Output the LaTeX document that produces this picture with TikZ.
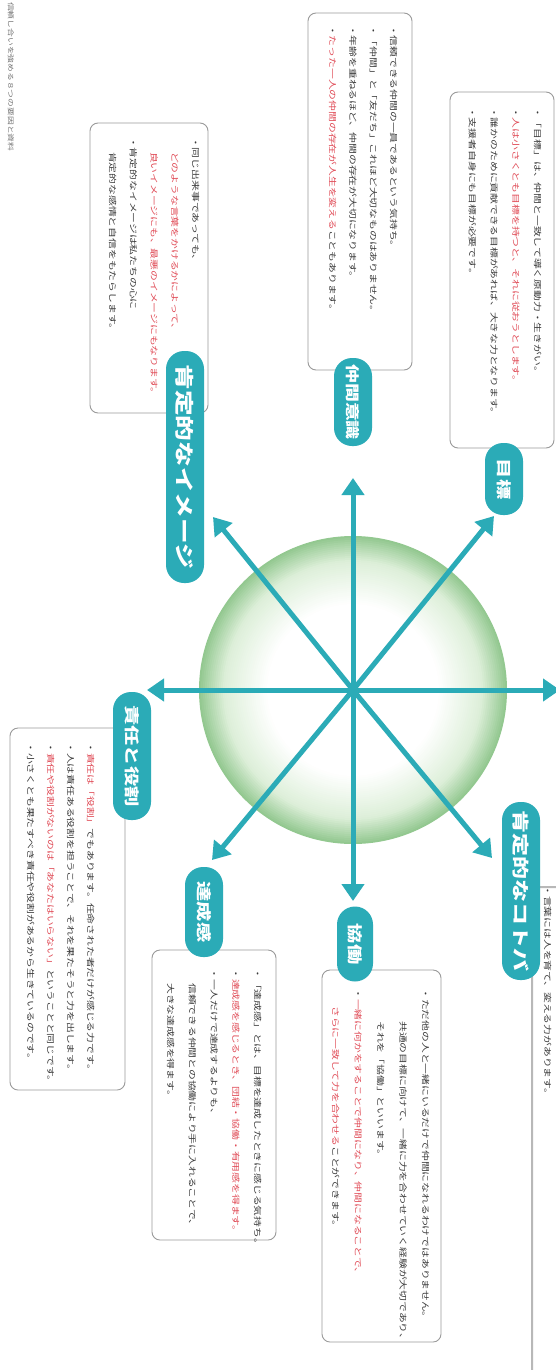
\documentclass[tikz,border=0pt]{standalone}
\usepackage{fontspec}
\newfontfamily\jp[FakeStretch=1.35]{Noto Sans CJK JP}
\usetikzlibrary{arrows.meta}
\definecolor{teal1}{HTML}{2BABB7}
\definecolor{redtxt}{HTML}{E04A55}
\definecolor{txt}{HTML}{3A3A3A}
\definecolor{boxline}{HTML}{9A9A9A}
\definecolor{ballmid}{HTML}{DDEFD9}
\definecolor{balledge}{HTML}{93C890}
\newcommand{\rd}[1]{\textcolor{redtxt}{#1}}
\begin{document}
\begin{tikzpicture}[x=1pt,y=-1pt,
  arr/.style={draw=teal1, line width=5pt, -{Triangle[length=17pt,width=22pt]}},
  pill/.style={fill=teal1, rounded corners=18pt, rotate=-90, inner sep=0pt, minimum height=38pt,
    text=white, font=\jp\bfseries},
  infobox/.style={draw=boxline, line width=0.9pt, fill=white, rounded corners=8pt, rotate=-90, inner sep=0pt},
  boxtext/.style={rotate=-90, anchor=north west, align=left, inner sep=0pt, text=txt},
  title/.style={rotate=-90, anchor=north west, inner sep=0pt, text=txt!70, font=\jp\fontsize{6.5pt}{8pt}\selectfont}
]
\path[use as bounding box] (0,0) rectangle (556,1370);
\clip (0,0) rectangle (556,1370);
\fill[white] (0,0) rectangle (556,1370);

% title
\node[title] (ttl) at (14,2) {信頼し合いを強める８つの要因と資料};

% centre ball (radial gradient built from concentric discs)
\node[circle, minimum size=308pt, inner sep=0pt] (ball) at (353,690) {};
\foreach \i in {0,...,77} {
  \pgfmathsetmacro\rr{154-2*\i}
  \pgfmathsetmacro\ff{\rr/154}
  \pgfmathsetmacro\pa{max(0,min(100,(\ff-0.84)/0.16*100))}
  \pgfmathsetmacro\pb{max(0,min(100,(\ff-0.56)/0.28*100))}
  \colorlet{tmpc}{ballmid!\pb!white}
  \colorlet{tmpd}{balledge!\pa!tmpc}
  \fill[tmpd] (ball.center) circle (\rr pt);
}
\coordinate (tN)  at (353,478);
\coordinate (tS)  at (353,901);
\coordinate (tW)  at (147,690);
\coordinate (tE)  at (560,690);
\coordinate (tNW) at (213,517);
\coordinate (tNE) at (494,516);
\coordinate (tSW) at (212,860);
\coordinate (tSE) at (492,858);
\foreach \t in {tN,tS,tW,tE,tNW,tNE,tSW,tSE}
  \draw[arr] (ball.center) -- (\t);

% boxes
\node[infobox, minimum width=356pt, minimum height=104pt] (boxA) at (502,270) {};
\node[infobox, minimum width=357pt, minimum height=104pt] (boxB) at (360,191.5) {};
\node[infobox, minimum width=290pt, minimum height=118pt] (boxC) at (149,268) {};
\node[infobox, minimum width=362pt, minimum height=115pt] (boxD) at (67.5,909) {};
\node[infobox, minimum width=290pt, minimum height=124pt] (boxE) at (214,1095) {};
\node[infobox, minimum width=372pt, minimum height=119pt] (boxF) at (381.5,1156) {};
\node[infobox, minimum width=533pt, minimum height=88pt, draw=boxline!70, line width=2pt] (boxG) at (576,1153.5) {};

% box texts
\node[boxtext, font=\jp\fontsize{8pt}{21.7pt}\selectfont] (txA) at (541.5,107) {%
・「目標」は、仲間と一致して導く原動力・生きがい。\\
・\rd{人は小さくとも目標を持つと、それに従おうとします。}\\
・誰かのために貢献できる目標があれば、大きな力となります。\\
・支援者自身にも目標が必要です。};

\node[boxtext, font=\jp\fontsize{8pt}{20.3pt}\selectfont] (txB) at (397.5,25) {%
・信頼できる仲間の一員であるという気持ち。\\
・「仲間」と「友だち」これほど大切なものはありません。\\
・年齢を重ねるほど、仲間の存在が大切になります。\\
・\rd{たった一人の仲間の存在が人生を変える}こともあります。};

\node[boxtext, font=\jp\fontsize{8pt}{20.75pt}\selectfont] (txC) at (199.5,137) {%
・同じ出来事であっても、\\
\hspace*{15pt}\rd{どのような言葉をかけるかによって、}\\
\hspace*{15pt}\rd{良いイメージにも、最悪のイメージにもなります。}\\
・肯定的なイメージは私たちの心に\\
\hspace*{15pt}肯定的な感情と自信をもたらします。};

\node[boxtext, font=\jp\fontsize{8pt}{20pt}\selectfont] (txD) at (94.5,742) {%
・\rd{責任は「役割」}でもあります。任命された者だけが感じる力です。\\
・人は責任ある役割を担うことで、それを果たそうと力を出します。\\
・\rd{責任や役割がないのは「あなたはいらない」}ということと同じです。\\
・小さくとも果たすべき責任や役割があるから生きているのです。};

\node[boxtext, font=\jp\fontsize{8pt}{21.75pt}\selectfont] (txE) at (261.5,968) {%
・「達成感」とは、目標を達成したときに感じる気持ち。\\
・\rd{達成感を感じるとき、団結・協働・有用感を得ます。}\\
・一人だけで達成するよりも、\\
\hspace*{15pt}信頼できる仲間との協働により手に入れることで、\\
\hspace*{15pt}大きな達成感を得ます。};

\node[boxtext, font=\jp\fontsize{8pt}{22.5pt}\selectfont] (txF) at (429.5,988) {%
・ただ他の人と一緒にいるだけで仲間になれるわけではありません。\\
\hspace*{33pt}共通の目標に向けて、一緒に力を合わせていく経験が大切であり、\\
\hspace*{33pt}それを「協働」といいます。\\
・\rd{一緒に何かをすることで仲間になり、仲間になることで、}\\
\hspace*{18pt}\rd{さらに一致して力を合わせる}ことができます。};

\node[boxtext, font=\jp\fontsize{8pt}{20pt}\selectfont] (txG) at (551.5,885) {%
・言葉には人を育て、変える力があります。};

% pills
\node[pill, minimum width=72pt,  font=\jp\bfseries\fontsize{15pt}{15pt}\selectfont] (pA) at (504,479) {目標};
\node[pill, minimum width=88pt,  font=\jp\bfseries\fontsize{14pt}{14pt}\selectfont] (pB) at (353,402) {仲間意識};
\node[pill, minimum width=232pt, font=\jp\bfseries\fontsize{19pt}{19pt}\selectfont] (pC) at (185,467) {肯定的なイメージ};
\node[pill, minimum width=128pt, font=\jp\bfseries\fontsize{15pt}{15pt}\selectfont] (pD) at (132,756) {責任と役割};
\node[pill, minimum width=90pt,  font=\jp\bfseries\fontsize{15pt}{15pt}\selectfont] (pE) at (204,912) {達成感};
\node[pill, minimum width=75pt,  minimum height=36pt, font=\jp\bfseries\fontsize{15pt}{15pt}\selectfont] (pF) at (355,944) {協働};
\node[pill, minimum width=178pt, font=\jp\bfseries\fontsize{17pt}{17pt}\selectfont] (pG) at (521,891) {肯定的なコトバ};
\end{tikzpicture}
\end{document}
